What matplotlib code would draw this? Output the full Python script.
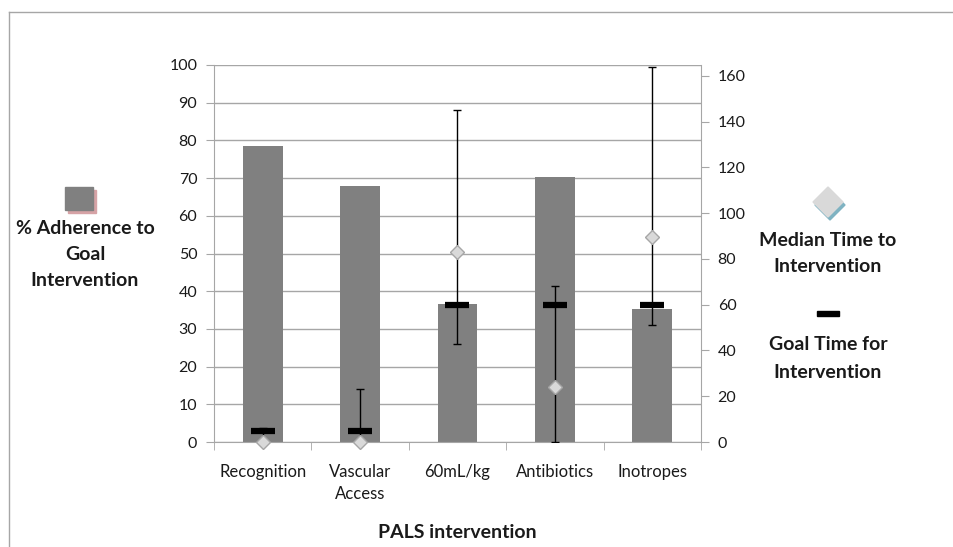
import matplotlib
matplotlib.use("Agg")
import matplotlib.pyplot as plt
import numpy as np
from matplotlib.patches import Rectangle, Polygon
from matplotlib.lines import Line2D

plt.rcParams['font.family'] = ['Lato', 'DejaVu Sans']

categories = ["Recognition", "Vascular\nAccess", "60mL/kg", "Antibiotics", "Inotropes"]
adherence = [78.6, 68.0, 36.5, 70.4, 35.2]          # % adherence (left axis)
median_time = [0, 0, 83, 24, 89.5]                    # minutes (right axis)
lower_time = [0, 0, 43, 0, 51]
upper_time = [6, 23, 145, 68, 164]
goal_time = [5, 5, 60, 60, 60]

W, H = 954, 547
fig = plt.figure(figsize=(W / 100, H / 100), dpi=100)
fig.patch.set_facecolor("white")

x = np.arange(len(categories))
ax = fig.add_axes([214 / W, 1 - 442 / H, (701 - 214) / W, (442 - 65) / H])
ax2 = ax.twinx()

grid_c = "#a6a6a6"
txt_c = "#1a1a1a"
ax.bar(x, adherence, width=0.41, color="#808080", zorder=2)
ax.set_xlim(-0.5, len(categories) - 0.5)
ax.set_ylim(0, 100)
ax.set_yticks(np.arange(0, 101, 10))
ax.set_axisbelow(True)
ax.yaxis.grid(True, color=grid_c, lw=1)
ax.set_xticks(x)
ax.set_xticklabels(categories, fontsize=12, linespacing=1.45, color=txt_c)
ax.set_xticks(np.arange(-0.5, len(categories), 1), minor=True)
ax.tick_params(axis="x", which="major", length=0, pad=16)
ax.tick_params(axis="x", which="minor", length=6, color=grid_c, direction="out")
ax.tick_params(axis="y", length=6, color=grid_c, pad=6, labelsize=11.5, labelcolor=txt_c)
for s in ["top", "right"]:
    ax.spines[s].set_visible(False)
for s in ["left", "bottom"]:
    ax.spines[s].set_color(grid_c)

ax2.set_ylim(0, 164.8)
ax2.set_yticks(np.arange(0, 161, 20))
ax2.tick_params(axis="y", length=6, color=grid_c, pad=6, labelsize=11.5, labelcolor=txt_c)
for s in ["top", "left", "bottom"]:
    ax2.spines[s].set_visible(False)
ax2.spines["right"].set_color(grid_c)

med = np.array(median_time)
yerr = np.array([med - np.array(lower_time), np.array(upper_time) - med])
ax2.errorbar(x, med, yerr=yerr, fmt="none", ecolor="black", elinewidth=1,
             capsize=3, capthick=1, zorder=3)
ax2.plot(x, goal_time, linestyle="none", marker="_", ms=17, mew=4.5,
         color="black", zorder=4)
ax2.plot(x, median_time, linestyle="none", marker="D", ms=7.5,
         mfc="#d9d9d9", mec="#a6a6a6", mew=1, zorder=5, clip_on=False)

ax.set_xlabel("PALS intervention", fontsize=14, fontweight="bold", labelpad=16,
              color=txt_c)

# overlay for legend decorations and border
ov = fig.add_axes([0, 0, 1, 1], zorder=10)
ov.set_xlim(0, W)
ov.set_ylim(H, 0)
ov.axis("off")
ov.add_line(Line2D([9, W], [12, 12], color="#a6a6a6", lw=1))
ov.add_line(Line2D([9, 9], [12, H], color="#a6a6a6", lw=1))

ov.add_patch(Rectangle((68, 190), 28, 23, color="#d6a3a6"))
ov.add_patch(Rectangle((65, 187), 28, 23, color="#808080"))
for i, t in enumerate(["% Adherence to", "Goal", "Intervention"]):
    ov.text(85, 228 + 26 * i, t, ha="center", va="center", fontsize=14,
            fontweight="bold", color=txt_c)

cx, cy, r = 828, 202, 15
ov.add_patch(Polygon([(cx + 2, cy - r + 3), (cx + r + 2, cy + 3), (cx + 2, cy + r + 3),
                      (cx - r + 2, cy + 3)], closed=True, color="#7fb3c2"))
ov.add_patch(Polygon([(cx, cy - r), (cx + r, cy), (cx, cy + r), (cx - r, cy)],
                     closed=True, color="#d9d9d9"))
for i, t in enumerate(["Median Time to", "Intervention"]):
    ov.text(828, 241 + 26 * i, t, ha="center", va="center", fontsize=14,
            fontweight="bold", color=txt_c)
ov.add_patch(Rectangle((817, 311), 22, 5, color="black"))
for i, t in enumerate(["Goal Time for", "Intervention"]):
    ov.text(828, 344 + 28 * i, t, ha="center", va="center", fontsize=14,
            fontweight="bold", color=txt_c)

fig.savefig("out.png", dpi=100)
